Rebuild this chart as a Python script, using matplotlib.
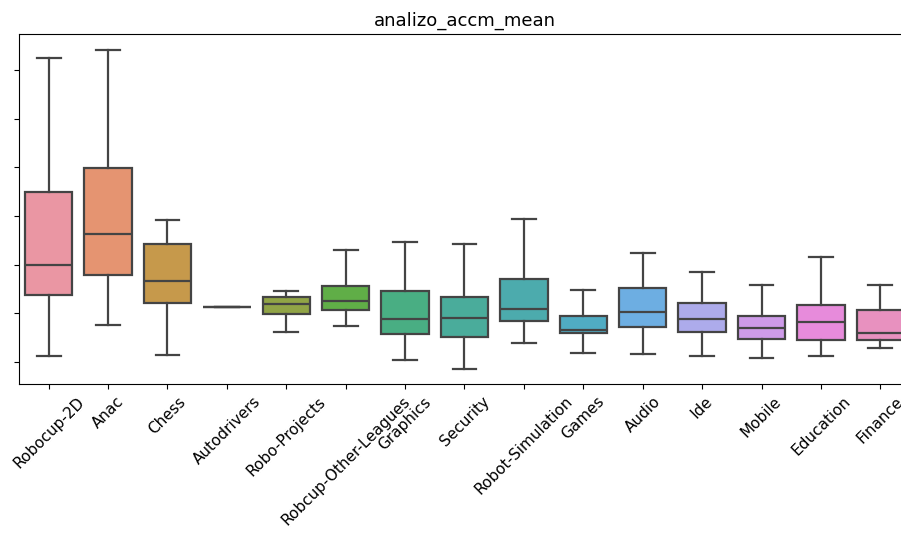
import matplotlib
matplotlib.use('Agg')
import matplotlib.pyplot as plt
import seaborn as sns


categories = ['Robocup-2D', 'Anac', 'Chess', 'Autodrivers', 'Robo-Projects',
              'Robcup-Other-Leagues', 'Graphics', 'Security', 'Robot-Simulation',
              'Games', 'Audio', 'Ide', 'Mobile', 'Education', 'Finance']

# box statistics (arbitrary units, no y labels shown)
whislo = [0.111, 0.756, 0.138, 1.126, 0.605, 0.729, 0.041, -0.144, 0.379,
          0.173, 0.159, 0.111, 0.076, 0.111, 0.276]
q1 = [1.373, 1.791, 1.209, 1.126, 0.976, 1.071, 0.570, 0.515, 0.838,
      0.585, 0.708, 0.605, 0.461, 0.453, 0.453]
med = [1.985, 2.629, 1.668, 1.126, 1.194, 1.256, 0.873, 0.894, 1.085,
       0.659, 1.029, 0.873, 0.700, 0.811, 0.597]
q3 = [3.500, 3.988, 2.417, 1.126, 1.332, 1.565, 1.449, 1.332, 1.697,
      0.947, 1.511, 1.202, 0.941, 1.167, 1.058]
whishi = [6.259, 6.411, 2.911, 1.126, 1.462, 2.294, 2.464, 2.417, 2.938,
          1.470, 2.238, 1.841, 1.573, 2.150, 1.579]


def make_stats():
    stats = []
    for i in range(len(categories)):
        stats.append({'label': categories[i], 'whislo': whislo[i], 'q1': q1[i],
                      'med': med[i], 'q3': q3[i], 'whishi': whishi[i],
                      'fliers': []})
    return stats


colors = [sns.desaturate(c, 0.75) for c in sns.husl_palette(len(categories), l=.7)]
line_c = '#444444'

fig = plt.figure(figsize=(9.01, 5.37), dpi=100)
ax = fig.add_axes([19 / 901, 1 - 384.3 / 537, 891 / 901, 350.3 / 537])

lw = 1.6
bp = ax.bxp(make_stats(), positions=range(len(categories)), widths=0.8,
            patch_artist=True, showfliers=False,
            boxprops=dict(edgecolor=line_c, linewidth=lw),
            medianprops=dict(color=line_c, linewidth=lw),
            whiskerprops=dict(color=line_c, linewidth=lw),
            capprops=dict(color=line_c, linewidth=lw))
for patch, c in zip(bp['boxes'], colors):
    patch.set_facecolor(c)

ax.set_xlim(-0.5, len(categories) - 0.5)
ax.set_ylim(-0.465, 6.747)
ax.set_yticks(range(7))
ax.set_yticklabels([])
ax.set_xticks(range(len(categories)))
ax.set_xticklabels(categories, rotation=45, fontsize=11)
ax.set_title('analizo_accm_mean', fontsize=13)

fig.savefig('out.png', dpi=100)
